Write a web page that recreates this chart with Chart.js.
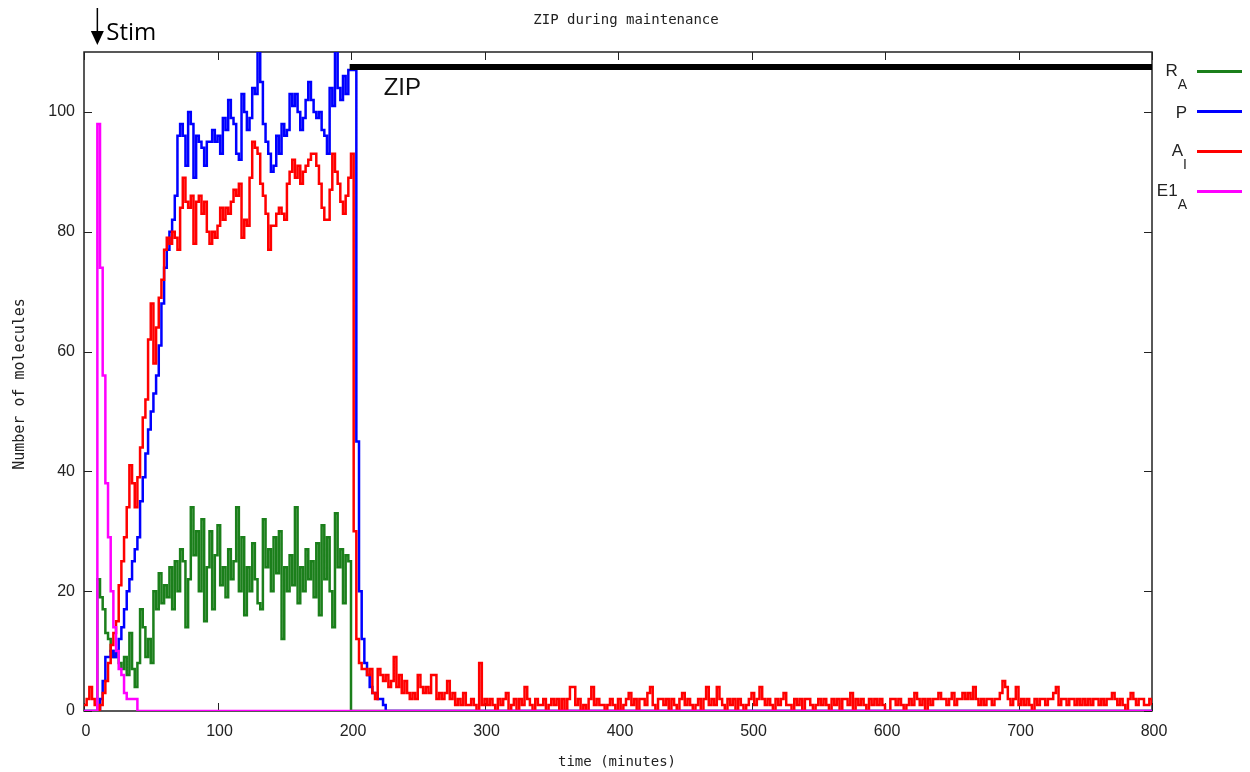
<!DOCTYPE html>
<html>
<head>
<meta charset="utf-8">
<title>ZIP during maintenance</title>
<script src="https://cdn.jsdelivr.net/npm/chart.js@4.4.1/dist/chart.umd.min.js"></script>
<style>
  html, body { margin: 0; padding: 0; background: #fff; }
  #wrap { position: relative; width: 1250px; height: 772px; }
</style>
</head>
<body>
<div id="wrap"><canvas id="chart"></canvas></div>
<script>
// Simulation output: one sample every 2 minutes, starting at t = 0.
// A series that stops early holds its last value until the end of the run.
const sampleStep = 2;
const runEnd = 800;

// R_A (green), t = 0..200
const rA = [
  0, 0, 0, 0, 0, 22, 19, 17, 13, 12, 10, 9, 10, 8, 7, 9, 6, 13, 7, 4,
  8, 17, 14, 9, 12, 8, 20, 17, 23, 18, 21, 19, 24, 17, 25, 20, 27, 25, 14, 22,
  34, 26, 30, 20, 32, 15, 24, 30, 17, 26, 31, 21, 24, 19, 27, 22, 25, 34, 20, 29,
  16, 24, 20, 28, 22, 18, 17, 32, 24, 27, 20, 29, 23, 30, 12, 24, 20, 26, 21, 34,
  18, 24, 20, 27, 22, 25, 19, 28, 16, 31, 22, 29, 20, 14, 33, 24, 27, 18, 26, 25,
  0
];

// P (blue), t = 0..226
const p = [
  0, 0, 0, 0, 0, 0, 2, 5, 9, 9, 10, 9, 10, 12, 14, 17, 20, 22, 25, 27,
  29, 35, 39, 43, 47, 50, 53, 56, 61, 68, 74, 77, 80, 82, 86, 96, 98, 96, 91, 100,
  98, 89, 96, 95, 94, 91, 95, 95, 97, 95, 96, 93, 99, 97, 102, 99, 98, 93, 92, 103,
  100, 97, 99, 104, 103, 111, 105, 98, 95, 93, 90, 91, 96, 93, 98, 96, 97, 103, 101, 103,
  100, 97, 99, 102, 105, 102, 100, 99, 100, 97, 96, 93, 104, 101, 111, 104, 102, 106, 103, 107,
  107, 107, 45, 20, 12, 8, 6, 4, 3, 3, 2, 2, 1, 0
];

// A_I (red), t = 0..800
const aI = [
  1, 2, 4, 2, 1, 0, 1, 3, 5, 8, 11, 13, 15, 21, 25, 29, 34, 41, 38, 34,
  39, 44, 49, 52, 62, 68, 58, 64, 69, 72, 77, 79, 78, 80, 79, 77, 84, 89, 85, 84,
  86, 78, 85, 86, 83, 85, 80, 78, 80, 79, 81, 84, 82, 84, 83, 85, 87, 86, 88, 79,
  82, 81, 89, 95, 94, 93, 88, 86, 83, 77, 81, 81, 83, 84, 83, 82, 88, 90, 92, 89,
  91, 88, 90, 91, 92, 93, 93, 91, 88, 84, 82, 82, 87, 93, 90, 88, 85, 83, 86, 89,
  93, 30, 12, 8, 7, 7, 6, 7, 3, 2, 7, 6, 5, 6, 4, 5,
  9, 4, 6, 3, 5, 3, 2, 3, 2, 6, 4, 3, 4, 3, 6, 6, 2, 3, 2, 3,
  5, 2, 3, 1, 2, 1, 3, 1, 1, 2, 1, 0, 8, 1, 2, 1, 2, 1, 0, 2,
  1, 2, 3, 0, 1, 2, 0, 2, 1, 4, 2, 1, 0, 2, 1, 1, 2, 0, 1, 2,
  1, 2, 0, 2, 0, 2, 4, 4, 1, 2, 0, 1, 0, 2, 4, 1, 2, 1, 1, 0,
  1, 2, 1, 0, 2, 0, 1, 2, 3, 1, 2, 0, 2, 2, 1, 3, 4, 1, 0, 2,
  2, 1, 2, 0, 2, 1, 0, 2, 3, 1, 2, 1, 0, 1, 2, 0, 2, 4, 1, 2,
  1, 4, 2, 1, 0, 2, 1, 2, 0, 2, 1, 0, 1, 2, 3, 1, 2, 4, 2, 1,
  2, 1, 0, 2, 1, 2, 3, 1, 1, 0, 2, 1, 2, 0, 2, 2, 1, 0, 1, 2,
  1, 2, 1, 0, 2, 1, 2, 0, 2, 2, 1, 3, 0, 2, 1, 2, 1, 0, 2, 1,
  2, 1, 2, 1, 0, 0, 2, 2, 1, 2, 1, 0, 1, 2, 1, 3, 2, 1, 2, 0,
  2, 1, 2, 2, 3, 2, 2, 1, 2, 3, 1, 2, 2, 3, 2, 3, 2, 4, 2, 1,
  2, 1, 2, 2, 1, 2, 2, 3, 5, 4, 2, 1, 2, 4, 1, 2, 1, 2, 1, 0,
  2, 1, 2, 2, 1, 2, 2, 3, 4, 1, 2, 2, 1, 2, 2, 1, 2, 1, 2, 1,
  2, 1, 2, 2, 1, 2, 1, 2, 2, 3, 2, 1, 2, 1, 0, 2, 3, 2, 1, 2,
  2, 1, 1, 2, 1
];

// E1_A (magenta), t = 0..40
const e1A = [
  0, 0, 0, 0, 0, 98, 74, 56, 38, 29, 20, 14, 10, 7, 6, 3, 2, 2, 2, 2,
  0
];

const xTickValues = [0, 100, 200, 300, 400, 500, 600, 700, 800];
const yTickValues = [0, 20, 40, 60, 80, 100];

// Stimulus time and ZIP application (bar drawn from zipStart to the end)
const stimTime = 10;
const zipStart = 199;
const zipLevel = 107.5;

const legendLabels = [
  { main: 'R', sub: 'A', color: '#1b7f1b' },
  { main: 'P', sub: '', color: '#0000ff' },
  { main: 'A', sub: 'I', color: '#ff0000' },
  { main: 'E1', sub: 'A', color: '#ff00ff' }
];

function toPoints(values) {
  const pts = values.map((v, i) => ({ x: i * sampleStep, y: v }));
  const lastX = (values.length - 1) * sampleStep;
  if (lastX < runEnd) pts.push({ x: runEnd, y: values[values.length - 1] });
  return pts;
}

function series(label, values, color, order) {
  return {
    label: label,
    data: toPoints(values),
    borderColor: color,
    backgroundColor: color,
    borderWidth: 2.5,
    pointRadius: 0,
    stepped: true,
    fill: false,
    order: order
  };
}

const monoFont = '14px "DejaVu Sans Mono"';
const tickFont = '16px "Liberation Sans"';

const decorations = {
  id: 'decorations',
  beforeDatasetsDraw(chart) {
    const { ctx, chartArea: a, scales: { x, y } } = chart;
    ctx.save();
    ctx.strokeStyle = '#222';
    ctx.lineWidth = 1.5;
    ctx.strokeRect(a.left, a.top, a.right - a.left, a.bottom - a.top);
    ctx.lineWidth = 1;
    ctx.beginPath();
    xTickValues.forEach(v => {
      const px = Math.round(x.getPixelForValue(v)) + 0.5;
      ctx.moveTo(px, a.bottom); ctx.lineTo(px, a.bottom - 8);
      ctx.moveTo(px, a.top); ctx.lineTo(px, a.top + 8);
    });
    yTickValues.forEach(v => {
      const py = Math.round(y.getPixelForValue(v)) + 0.5;
      ctx.moveTo(a.left, py); ctx.lineTo(a.left + 8, py);
      ctx.moveTo(a.right, py); ctx.lineTo(a.right - 8, py);
    });
    ctx.stroke();
    ctx.restore();
  },
  afterDatasetsDraw(chart) {
    const { ctx, chartArea: a, scales: { x, y } } = chart;
    ctx.save();
    ctx.fillStyle = '#222';

    // tick labels
    ctx.font = tickFont;
    ctx.textAlign = 'right';
    ctx.textBaseline = 'middle';
    yTickValues.forEach(v => ctx.fillText(String(v), a.left - 9, y.getPixelForValue(v)));
    ctx.textAlign = 'center';
    ctx.textBaseline = 'top';
    xTickValues.forEach(v => ctx.fillText(String(v), x.getPixelForValue(v) + 2, a.bottom + 13));

    // title and axis titles
    ctx.font = monoFont;
    ctx.textBaseline = 'middle';
    ctx.fillText('ZIP during maintenance', 626, 20);
    ctx.fillText('time (minutes)', 617, 762);
    ctx.save();
    ctx.translate(20, 384);
    ctx.rotate(-Math.PI / 2);
    ctx.font = '15px "DejaVu Sans Mono"';
    ctx.fillText('Number of molecules', 0, 0);
    ctx.restore();

    // legend
    const lineX = 1197;
    legendLabels.forEach((item, i) => {
      const ly = 71.5 + i * 40;
      ctx.strokeStyle = item.color;
      ctx.lineWidth = 3;
      ctx.beginPath();
      ctx.moveTo(lineX, ly); ctx.lineTo(lineX + 45, ly);
      ctx.stroke();
      ctx.font = '14px "Liberation Sans"';
      const wSub = item.sub ? ctx.measureText(item.sub).width : 0;
      ctx.font = '17px "Liberation Sans"';
      const wMain = ctx.measureText(item.main).width;
      const right = lineX - 10;
      ctx.textAlign = 'left';
      ctx.textBaseline = 'alphabetic';
      ctx.fillStyle = '#222';
      ctx.fillText(item.main, right - wSub - wMain, ly + (item.sub ? 4 : 6));
      if (item.sub) {
        ctx.font = '14px "Liberation Sans"';
        ctx.fillText(item.sub, right - wSub, ly + 17);
      }
    });

    // stimulus arrow
    const sx = x.getPixelForValue(stimTime);
    ctx.strokeStyle = '#000';
    ctx.fillStyle = '#000';
    ctx.lineWidth = 1.5;
    ctx.beginPath();
    ctx.moveTo(sx, 8); ctx.lineTo(sx, 36);
    ctx.stroke();
    ctx.beginPath();
    ctx.moveTo(sx - 6.5, 31); ctx.lineTo(sx + 6.5, 31); ctx.lineTo(sx, 45);
    ctx.closePath();
    ctx.fill();
    ctx.font = '24px "Open Sans"';
    ctx.textAlign = 'left';
    ctx.textBaseline = 'alphabetic';
    ctx.fillText('Stim', sx + 9, 40);

    // ZIP label under the bar
    ctx.font = '24px "Liberation Sans"';
    ctx.fillStyle = '#111';
    ctx.fillText('ZIP', x.getPixelForValue(zipStart) + 34, y.getPixelForValue(zipLevel) + 28);
    ctx.restore();
  }
};

new Chart(document.getElementById('chart'), {
  type: 'line',
  data: {
    datasets: [
      {
        label: 'ZIP',
        data: [{ x: zipStart, y: zipLevel }, { x: runEnd, y: zipLevel }],
        borderColor: '#000',
        borderWidth: 6,
        pointRadius: 0,
        order: 0
      },
      series('E1_A', e1A, '#ff00ff', 1),
      series('A_I', aI, '#ff0000', 2),
      series('P', p, '#0000ff', 3),
      series('R_A', rA, '#1b7f1b', 4)
    ]
  },
  options: {
    responsive: true,
    maintainAspectRatio: false,
    animation: false,
    events: [],
    layout: { padding: { left: 84, right: 98, top: 52, bottom: 61 } },
    plugins: {
      legend: { display: false },
      title: { display: false },
      tooltip: { enabled: false }
    },
    scales: {
      x: {
        type: 'linear', min: 0, max: runEnd, display: false
      },
      y: {
        type: 'linear', min: 0, max: 110, display: false
      }
    }
  },
  plugins: [decorations]
});
</script>
</body>
</html>
